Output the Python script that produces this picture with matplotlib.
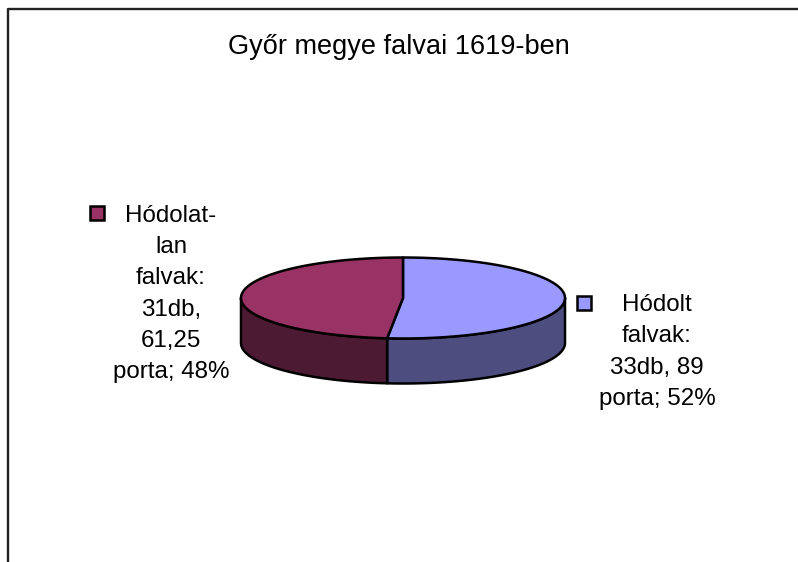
import numpy as np
import matplotlib
matplotlib.use("Agg")
import matplotlib.pyplot as plt
from matplotlib.patches import Polygon, Rectangle

plt.rcParams['font.family'] = ['Liberation Sans', 'DejaVu Sans']

title = "Győr megye falvai 1619-ben"
categories = ["Hódolt falvak", "Hódolatlan falvak"]
villages = [33, 31]
labels = ["Hódolt\nfalvak:\n33db, 89\nporta; 52%",
          "Hódolat-\nlan\nfalvak:\n31db,\n61,25\nporta; 48%"]
top_colors = ["#9999FF", "#993366"]
side_colors = ["#4D4D80", "#4D1A33"]

W, H = 798, 562
fig = plt.figure(figsize=(W / 100, H / 100), dpi=100)
ax = fig.add_axes([0, 0, 1, 1])
ax.set_xlim(0, W)
ax.set_ylim(H, 0)
ax.axis('off')

# outer chart frame (left and top edges visible)
ax.plot([8, 8, W + 5], [H + 5, 9, 9], color='#222222', lw=1.7, solid_capstyle='butt')

ax.text(399, 47, title, ha='center', va='center', fontsize=19.5)

# 3D pie geometry in pixel units
cx, cy, rx, ry, depth = 403, 298, 162, 40.5, 45


def pt(a, dz=0):
    a = np.radians(a)
    return np.column_stack([cx + rx * np.cos(a), cy - ry * np.sin(a) + dz])


fracs = np.array(villages) / sum(villages)
starts = 90 - 360 * np.concatenate([[0], np.cumsum(fracs)[:-1]])
ends = starts - 360 * fracs

# sides (front half only: angles 180..360)
for s, e, col in zip(starts, ends, side_colors):
    lo, hi = e % 360, s % 360
    if hi <= lo:
        hi += 360
    for off in (0, 360, -360):
        a0, a1 = max(lo + off, 180), min(hi + off, 360)
        if a1 > a0:
            angs = np.linspace(a0, a1, 80)
            poly = np.vstack([pt(angs), pt(angs[::-1], depth)])
            ax.add_patch(Polygon(poly, closed=True, fc=col, ec='black', lw=1.8,
                                 joinstyle='round'))

# top faces
for s, e, col in zip(starts, ends, top_colors):
    angs = np.linspace(s, e, 120)
    poly = np.vstack([[cx, cy], pt(angs)])
    ax.add_patch(Polygon(poly, closed=True, fc=col, ec='black', lw=1.8,
                         joinstyle='round'))

# labels with legend keys
label_pos = [(657, 352), (171, 294)]
key_pos = [(577, 296), (90, 206)]
for lab, (tx, ty), (kx, ky), col in zip(labels, label_pos, key_pos, top_colors):
    ax.text(tx, ty, lab, ha='center', va='center', multialignment='center',
            fontsize=17.4, linespacing=1.55)
    ax.add_patch(Rectangle((kx, ky), 14, 14, fc=col, ec='black', lw=1.8))

fig.savefig("out.png", dpi=100)
